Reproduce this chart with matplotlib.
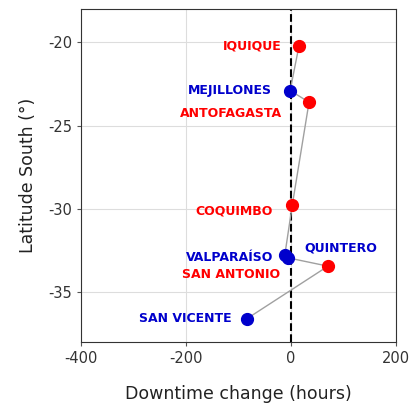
import numpy as np
import matplotlib
matplotlib.use("Agg")
import matplotlib.pyplot as plt

plt.rcParams["axes.unicode_minus"] = False

# ports ordered north to south
ports = ["IQUIQUE", "MEJILLONES", "ANTOFAGASTA", "COQUIMBO",
         "QUINTERO", "VALPARAÍSO", "SAN ANTONIO", "SAN VICENTE"]
downtime_change = [15, -2, 34, 2, -12, -6, 70, -84]
latitude = [-20.2, -22.9, -23.6, -29.8, -32.75, -32.95, -33.45, -36.6]
colors = ["red", "blue", "red", "red", "blue", "blue", "red", "blue"]

# label offsets in pixels (dx, dy) and alignment
label_offsets = [(-17, 0), (-18, 0), (-27, -11), (-19, -6),
                 (19, 7), (-15, 0), (-48, -8), (-15, 0)]
label_ha = ["right", "right", "right", "right",
            "left", "right", "right", "right"]

RED = "#ff0000"
BLUE = "#0000cc"

fig = plt.figure(figsize=(4.14, 4.08), dpi=100)
ax = fig.add_axes([0.196, 0.162, 0.761, 0.816])

ax.grid(True, color="#dddddd", linewidth=0.8)
ax.set_axisbelow(True)
ax.axvline(0, color="black", linestyle="--", linewidth=1.5, zorder=2)
ax.plot(downtime_change, latitude, color="#a0a0a0", linewidth=1.0, zorder=3)

for x, y, c, name, off, ha in zip(downtime_change, latitude, colors, ports,
                                  label_offsets, label_ha):
    col = RED if c == "red" else BLUE
    ax.plot(x, y, "o", color=col, markersize=8.5, zorder=4)
    ax.annotate(name, (x, y), xytext=off, textcoords="offset pixels",
                ha=ha, va="center", color=col, fontsize=9,
                fontweight="bold", zorder=5)

ax.set_xlim(-400, 200)
ax.set_ylim(-38, -18)
ax.set_xticks([-400, -200, 0, 200])
ax.set_yticks([-35, -30, -25, -20])
ax.tick_params(labelsize=10.5, labelcolor="#333333", length=3, color="#555555")
ax.set_xlabel("Downtime change (hours)", fontsize=12.5, color="#222222", labelpad=14)
ax.set_ylabel("Latitude South (°)", fontsize=12.5, color="#222222", labelpad=8)
for s in ax.spines.values():
    s.set_color("#333333")

fig.savefig("out.png", dpi=100)
